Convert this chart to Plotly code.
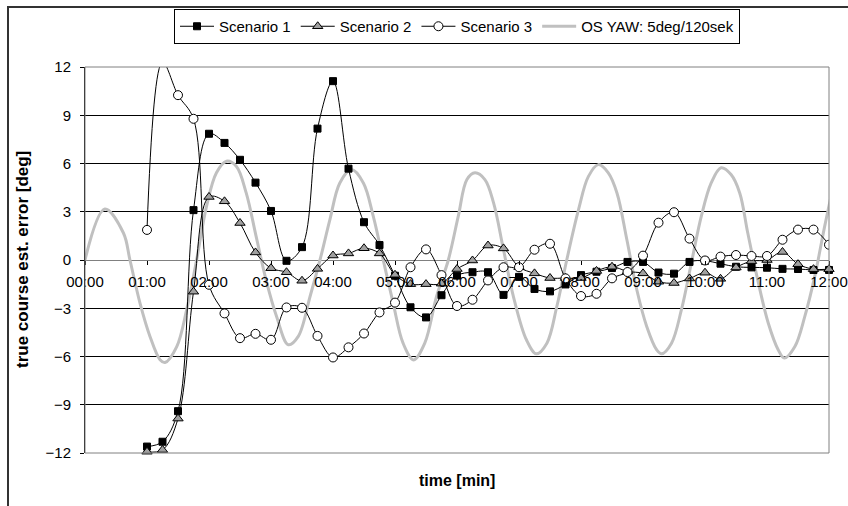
import plotly.graph_objects as go

# ---------------- data ----------------
time_labels = ["00:00", "01:00", "02:00", "03:00", "04:00", "05:00", "06:00",
               "07:00", "08:00", "09:00", "10:00", "11:00", "12:00"]
tick_minutes = [0, 1, 2, 3, 4, 5, 6, 7, 8, 9, 10, 11, 12]

sample_times = ["01:00", "01:15", "01:30", "01:45", "02:00", "02:15", "02:30", "02:45",
                "03:00", "03:15", "03:30", "03:45", "04:00", "04:15", "04:30", "04:45",
                "05:00", "05:15", "05:30", "05:45", "06:00", "06:15", "06:30", "06:45",
                "07:00", "07:15", "07:30", "07:45", "08:00", "08:15", "08:30", "08:45",
                "09:00", "09:15", "09:30", "09:45", "10:00", "10:15", "10:30", "10:45",
                "11:00", "11:15", "11:30", "11:45", "12:00"]

scenario1 = [-11.6, -11.3, -9.4, 3.1, 7.85, 7.28, 6.23, 4.81, 3.05, -0.05, 0.8, 8.17,
             11.12, 5.68, 2.35, 0.93, -0.98, -2.94, -3.57, -2.19, -0.97, -0.76, -0.76,
             -2.17, -1.05, -1.8, -1.95, -1.52, -0.94, -0.73, -0.5, -0.12, -0.12, -0.78,
             -0.85, -0.12, -0.05, -0.23, -0.42, -0.46, -0.48, -0.55, -0.56, -0.62, -0.62]

scenario2 = [-11.92, -11.81, -9.86, -1.97, 3.92, 3.65, 2.30, 0.47, -0.51, -0.76, -1.29,
             -0.55, 0.28, 0.41, 0.73, 0.41, -0.92, -1.5, -1.5, -1.47, -0.56, -0.03, 0.9,
             0.72, -0.44, -0.83, -1.12, -1.12, -1.12, -0.68, -0.42, -0.71, -0.83, -1.35,
             -1.43, -1.15, -0.79, -1.17, -0.47, -0.07, 0.0, 0.5, -0.26, -0.57, -0.57]

scenario3 = [1.87, 12.3, 10.25, 8.78, -1.54, -3.32, -4.86, -4.59, -4.96, -2.95, -2.97,
             -4.72, -6.06, -5.43, -4.57, -3.26, -2.65, -0.45, 0.66, -0.94, -2.86, -2.47,
             -1.27, -0.45, -0.45, 0.64, 1.01, -1.14, -2.24, -2.1, -1.14, -0.75, 0.27, 2.32,
             2.97, 1.33, -0.03, 0.21, 0.31, 0.25, 0.25, 1.26, 1.89, 1.89, 0.95]

yaw_t = [0.0, 0.32, 0.62, 0.725, 0.887, 1.048, 1.21, 1.29, 1.48, 1.64, 1.80, 1.96, 2.12,
         2.28, 2.44, 2.60, 2.76, 2.92, 3.09, 3.28, 3.44, 3.63, 3.79, 3.95, 4.11, 4.30,
         4.49, 4.65, 4.81, 4.97, 5.13, 5.30, 5.48, 5.67, 5.86, 6.02, 6.16, 6.29, 6.45,
         6.59, 6.75, 6.91, 7.12, 7.28, 7.45, 7.61, 7.77, 7.96, 8.12, 8.28, 8.44, 8.58,
         8.74, 8.90, 9.06, 9.22, 9.30, 9.46, 9.62, 9.78, 9.94, 10.10, 10.26, 10.42,
         10.56, 10.69, 10.85, 11.02, 11.18, 11.28, 11.45, 11.61, 11.77, 11.93, 12.08]
yaw_v = [0.0, 3.17, 1.68, 0.0, -2.68, -4.75, -6.2, -6.37, -5.38, -3.09, 0.0, 3.34, 5.42,
         6.14, 5.83, 4.17, 1.47, -1.23, -3.51, -5.27, -4.75, -2.27, 0.0, 2.51, 4.79, 5.62,
         4.79, 2.71, 0.0, -2.68, -5.17, -6.21, -5.17, -2.27, 0.0, 2.71, 5.0, 5.42, 5.0,
         3.55, 0.64, -2.27, -4.96, -5.83, -5.17, -2.89, 0.0, 3.13, 5.2, 5.93, 5.42, 4.17,
         1.26, -1.85, -4.13, -5.58, -5.83, -5.17, -3.09, -0.19, 2.71, 4.79, 5.73, 5.31,
         4.17, 1.68, -1.23, -3.92, -5.58, -6.1, -5.38, -3.51, -1.02, 2.09, 4.79]

y_ticks = [-12, -9, -6, -3, 0, 3, 6, 9, 12]


def to_minutes(s):
    m, sec = s.split(":")
    return int(m) + int(sec) / 60.0


x_s = [to_minutes(s) for s in sample_times]

FONT = "Liberation Sans, Arial, Helvetica, sans-serif"

fig = go.Figure()

fig.add_trace(go.Scatter(
    x=yaw_t, y=yaw_v, name="OS YAW: 5deg/120sek", mode="lines",
    line=dict(color="#c0c0c0", width=3, shape="spline"), legendrank=4))

fig.add_trace(go.Scatter(
    x=x_s, y=scenario1, name="Scenario 1", mode="lines+markers",
    line=dict(color="black", width=1, shape="spline"),
    marker=dict(symbol="square", size=7, color="black", line=dict(color="black", width=1)),
    cliponaxis=False, legendrank=1))

fig.add_trace(go.Scatter(
    x=x_s, y=scenario2, name="Scenario 2", mode="lines+markers",
    line=dict(color="black", width=1, shape="spline"),
    marker=dict(symbol="triangle-up", size=9, color="#a0a0a0", line=dict(color="black", width=1)),
    cliponaxis=False, legendrank=2))

fig.add_trace(go.Scatter(
    x=x_s, y=scenario3, name="Scenario 3", mode="lines+markers",
    line=dict(color="black", width=1, shape="spline"),
    marker=dict(symbol="circle", size=9, color="white", line=dict(color="black", width=1)),
    cliponaxis=True, legendrank=3))

# plot-area border (gray) and outer chart border
fig.add_shape(type="rect", xref="paper", yref="paper", x0=0, x1=1, y0=0, y1=1,
              line=dict(color="#808080", width=1), fillcolor="rgba(0,0,0,0)", layer="above")
fig.add_shape(type="rect", xref="paper", yref="paper",
              x0=(8 - 85) / 744, x1=(870 - 85) / 744,
              y0=(453 - 530) / 386, y1=(453 - 7) / 386,
              line=dict(color="#333333", width=2), fillcolor="rgba(0,0,0,0)", layer="above")

fig.add_annotation(text="<b>time [min]</b>", xref="paper", yref="paper",
                   x=0.5, y=(453 - 480) / 386, showarrow=False,
                   font=dict(family=FONT, size=16, color="black"),
                   xanchor="center", yanchor="middle")
fig.add_annotation(text="<b>true course est. error [deg]</b>", xref="paper", yref="paper",
                   x=(22 - 85) / 744, y=0.5, showarrow=False, textangle=-90,
                   font=dict(family=FONT, size=17, color="black"),
                   xanchor="center", yanchor="middle")

fig.update_layout(
    width=848, height=506,
    margin=dict(l=85, r=19, t=67, b=53, autoexpand=False),
    paper_bgcolor="white", plot_bgcolor="white",
    font=dict(family=FONT, size=15, color="black"),
    showlegend=True,
    legend=dict(orientation="h", x=0.5, xanchor="center", y=(453 - 9) / 386, yanchor="top",
                bordercolor="black", borderwidth=1, bgcolor="white",
                font=dict(family=FONT, size=15, color="black"),
                itemwidth=34, tracegroupgap=0),
    xaxis=dict(range=[0, 12], tickmode="array", tickvals=tick_minutes, ticktext=time_labels,
               showgrid=False, zeroline=False, showline=False,
               anchor="free", position=0.5,
               ticks="outside", ticklen=4, tickcolor="black", ticklabelstandoff=4,
               tickfont=dict(family=FONT, size=15, color="black")),
    yaxis=dict(range=[-12, 12], tickmode="array", tickvals=y_ticks,
               showgrid=True, gridcolor="black", gridwidth=1,
               zeroline=True, zerolinecolor="#808080", zerolinewidth=1,
               showline=True, linecolor="black", linewidth=1,
               ticks="outside", ticklen=4, tickcolor="black", ticklabelstandoff=6,
               tickfont=dict(family=FONT, size=15, color="black")),
)

fig.write_html("out.html", config={"displayModeBar": False},
               post_script="document.body.style.margin='0';")
